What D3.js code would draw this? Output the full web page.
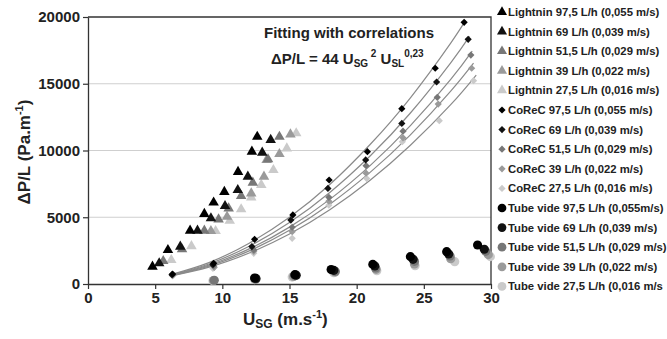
<!DOCTYPE html>
<html>
<head>
<meta charset="utf-8">
<script src="https://cdn.jsdelivr.net/npm/d3@7"></script>
<style>
  body { margin: 0; background: #fff; }
  svg { display: block; font-family: 'Liberation Sans', Arial, sans-serif; font-weight: bold; }
</style>
</head>
<body>
<svg id="chart" width="667" height="339"></svg>
<script>
// legend labels, in legend order
const lightninNames = [
  'Lightnin 97,5 L/h (0,055 m/s)', 'Lightnin 69 L/h (0,039 m/s)', 'Lightnin 51,5 L/h (0,029 m/s)',
  'Lightnin 39 L/h (0,022 m/s)', 'Lightnin 27,5 L/h (0,016 m/s)'
]
const corecNames = [
  'CoReC 97,5 L/h (0,055 m/s)', 'CoReC 69 L/h (0,039 m/s)', 'CoReC 51,5 L/h (0,029 m/s)',
  'CoReC 39 L/h (0,022 m/s)', 'CoReC 27,5 L/h (0,016 m/s)'
]
const tubeNames = [
  'Tube vide 97,5 L/h (0,055m/s)', 'Tube vide 69 L/h (0,039 m/s)', 'Tube vide 51,5 L/h (0,029 m/s)',
  'Tube vide 39 L/h (0,022 m/s)', 'Tube vide 27,5 L/h (0,016 m/s'
]

// [U_SG, dP/L]
const lightnin = [
  [[4.8, 1300], [5.95, 2550], [7.6, 4000], [8.66, 5250], [9.35, 6100], [10.15, 6900], [11.17, 8400], [12.2, 9910], [12.6, 11030]],
  [[5.3, 1550], [6.87, 2800], [8.15, 4000], [9.15, 4920], [10.2, 5840], [11.15, 7040], [11.9, 8040], [12.97, 9840], [13.6, 10790]],
  [[5.6, 1720], [7.0, 2600], [8.66, 4000], [9.72, 4840], [10.47, 5660], [11.4, 6590], [12.27, 7590], [13.4, 9340], [14.25, 11030]],
  [[9.15, 3970], [10.35, 5040], [12.15, 6790], [13.1, 8040], [13.3, 9300], [14.25, 9740], [15.07, 11210]],
  [[6.2, 1800], [7.7, 2840], [9.5, 3970], [10.55, 4740], [11.4, 5600], [12.15, 6490], [12.9, 7420], [13.8, 8540], [14.8, 10160], [15.5, 11290]]
]
const corec = [
  [[6.3, 750], [9.35, 1550], [12.4, 3350], [15.25, 5170], [17.95, 7790], [20.8, 9910], [23.36, 13130], [25.85, 16160], [28.0, 19600]],
  [[6.25, 700], [9.3, 1450], [12.2, 2800], [15.1, 4790], [17.86, 7160], [20.67, 9290], [23.36, 12030], [25.95, 15130], [28.3, 18330]],
  [[6.3, 680], [9.35, 1350], [12.34, 2550], [15.2, 4250], [17.93, 6490], [20.7, 8860], [23.45, 11450], [26.0, 13980], [28.5, 17150]],
  [[6.3, 650], [9.4, 1250], [12.34, 2450], [15.2, 3920], [17.93, 6200], [20.7, 8300], [23.45, 10950], [26.07, 13480], [28.56, 16160]],
  [[6.3, 600], [9.3, 1170], [12.34, 2300], [15.2, 3420], [17.93, 5900], [20.75, 7900], [23.4, 10660], [26.15, 12230], [28.7, 15230]]
]
const tube = [
  [[12.4, 450], [15.4, 700], [18.1, 1080], [21.2, 1470], [24.0, 2050], [26.7, 2420], [29.0, 2920]],
  [[12.5, 420], [15.5, 660], [18.3, 1020], [21.35, 1350], [24.2, 1850], [26.85, 2250], [29.5, 2600]],
  [[9.4, 280], [12.5, 380], [15.4, 620], [18.4, 950], [21.4, 1200], [24.3, 1700], [26.95, 2100], [29.6, 2450]],
  [[9.35, 260], [12.45, 350], [15.3, 560], [18.4, 900], [21.45, 1100], [24.3, 1500], [27.0, 1900], [29.8, 2200]],
  [[9.3, 240], [12.4, 330], [15.2, 520], [18.3, 850], [21.5, 1000], [24.35, 1370], [27.3, 1670], [29.95, 2050]]
]
// fitted correlation curves
const fitU = [6.3, 9, 12, 15, 18, 21, 24, 27]
const fitEndU = [28.1, 28.4, 28.6, 28.7, 28.9]
const fits = [
  [740, 1600, 3060, 5000, 7450, 10450, 13950, 18050, 19750],
  [700, 1500, 2830, 4610, 6860, 9590, 12810, 16570, 18550],
  [670, 1410, 2630, 4260, 6340, 8870, 11860, 15330, 17450],
  [650, 1340, 2480, 4020, 5980, 8360, 11170, 14450, 16550],
  [630, 1260, 2320, 3740, 5560, 7770, 10390, 13430, 15650]
]
const xTicks = [0, 5, 10, 15, 20, 25, 30]
const yTicks = [0, 5000, 10000, 15000, 20000]

const greys = ['#000', '#111', '#777', '#9a9a9a', '#cacaca']

const svg = d3.select('#chart')
const m = { left: 88, right: 491, top: 17, bottom: 284 }

const x = d3.scaleLinear().domain([0, 30]).range([m.left, m.right])
const y = d3.scaleLinear().domain([0, 20000]).range([m.bottom, m.top])

// grid
svg.append('g')
  .selectAll('line')
  .data(yTicks.filter(d => d > 0 && d < 20000))
  .join('line')
  .attr('x1', m.left).attr('x2', m.right)
  .attr('y1', d => y(d)).attr('y2', d => y(d))
  .style('stroke', '#cfcfcf').style('stroke-width', 1.2)

// frame top/right
svg.append('path')
  .attr('d', `M${m.left},${m.top}H${m.right}V${m.bottom}`)
  .style('fill', 'none').style('stroke', '#333').style('stroke-width', 1.3)

const xAxis = svg.append('g')
  .attr('transform', `translate(0,${m.bottom})`)
  .call(d3.axisBottom(x).tickValues(xTicks).tickSize(5).tickSizeOuter(0).tickPadding(3))
const yAxis = svg.append('g')
  .attr('transform', `translate(${m.left},0)`)
  .call(d3.axisLeft(y).tickValues(yTicks).tickSize(5).tickSizeOuter(0).tickPadding(3).tickFormat(d3.format('d')))

;[xAxis, yAxis].forEach(a => {
  a.select('.domain').style('stroke', '#333').style('stroke-width', 1.3)
  a.selectAll('.tick line').style('stroke', '#333').style('stroke-width', 1.2)
  a.selectAll('.tick text')
    .style('font-family', "'Liberation Sans', Arial, sans-serif")
    .style('font-weight', 'bold').style('font-size', '15px').style('fill', '#222')
})

// fitted curves
const line = d3.line().x(d => x(d[0])).y(d => y(d[1])).curve(d3.curveNatural)
fits.forEach((vals, i) => {
  const pts = vals.map((v, j) => [j < fitU.length ? fitU[j] : fitEndU[i], v])
  svg.append('path')
    .attr('d', line(pts))
    .style('fill', 'none').style('stroke', '#8a8a8a').style('stroke-width', 1.2)
})

const symType = { tri: d3.symbolTriangle, dia: d3.symbolSquare, cir: d3.symbolCircle }
const symSize = { tri: 48, dia: 26, cir: 66 }
const symRot = { tri: 0, dia: 45, cir: 0 }

// markers, later series underneath
;[[tube, 'cir'], [corec, 'dia'], [lightnin, 'tri']].forEach(([groups, shape]) => {
  for (let i = groups.length - 1; i >= 0; i--) {
    svg.append('g')
      .selectAll('path')
      .data(groups[i])
      .join('path')
      .attr('transform', d => `translate(${x(d[0])},${y(d[1])}) rotate(${symRot[shape]})`)
      .attr('d', d3.symbol().type(symType[shape]).size(symSize[shape])())
      .style('fill', greys[i])
  }
})

// annotation
const ann = svg.append('g').style('font-size', '15px').style('fill', '#222')
ann.append('text').attr('x', 264).attr('y', 38).text('Fitting with correlations')
const eq = ann.append('text').attr('x', 271).attr('y', 64)
eq.append('tspan').text('ΔP/L = 44 U')
eq.append('tspan').attr('dy', 3).style('font-size', '10px').text('SG')
eq.append('tspan').attr('dy', -10).style('font-size', '10px').text(' 2')
eq.append('tspan').attr('dy', 7).text(' U')
eq.append('tspan').attr('dy', 3).style('font-size', '10px').text('SL')
eq.append('tspan').attr('dy', -10).style('font-size', '10px').text('0,23')

// axis titles
const xt = svg.append('text').attr('x', 243).attr('y', 325).style('font-size', '17px').style('fill', '#222')
xt.append('tspan').text('U')
xt.append('tspan').attr('dy', 3).style('font-size', '12px').text('SG')
xt.append('tspan').attr('dy', -3).text(' (m.s')
xt.append('tspan').attr('dy', -7).style('font-size', '11px').text('-1')
xt.append('tspan').attr('dy', 7).text(')')

const yt = svg.append('text')
  .attr('transform', 'translate(30,152) rotate(-90)')
  .attr('text-anchor', 'middle')
  .style('font-size', '17px').style('fill', '#222')
yt.append('tspan').text('ΔP/L (Pa.m')
yt.append('tspan').attr('dy', -7).style('font-size', '11px').text('-1')
yt.append('tspan').attr('dy', 7).text(')')

// legend
const legendItems = [
  ...lightninNames.map((n, i) => ({ name: n, shape: 'tri', color: greys[i] })),
  ...corecNames.map((n, i) => ({ name: n, shape: 'dia', color: greys[i] })),
  ...tubeNames.map((n, i) => ({ name: n, shape: 'cir', color: greys[i] }))
]
const legend = svg.append('g').attr('class', 'legend')
  .selectAll('g')
  .data(legendItems)
  .join('g')
  .attr('transform', (d, i) => `translate(502,${12 + i * 19.6})`)
legend.append('path')
  .attr('transform', d => `rotate(${symRot[d.shape]})`)
  .attr('d', d => d3.symbol().type(symType[d.shape]).size(d.shape === 'cir' ? 60 : d.shape === 'tri' ? 44 : 26)())
  .style('fill', d => d.color)
legend.append('text')
  .attr('x', 6).attr('y', 4)
  .style('font-size', '11.3px').style('fill', '#222')
  .text(d => d.name)
</script>
</body>
</html>
